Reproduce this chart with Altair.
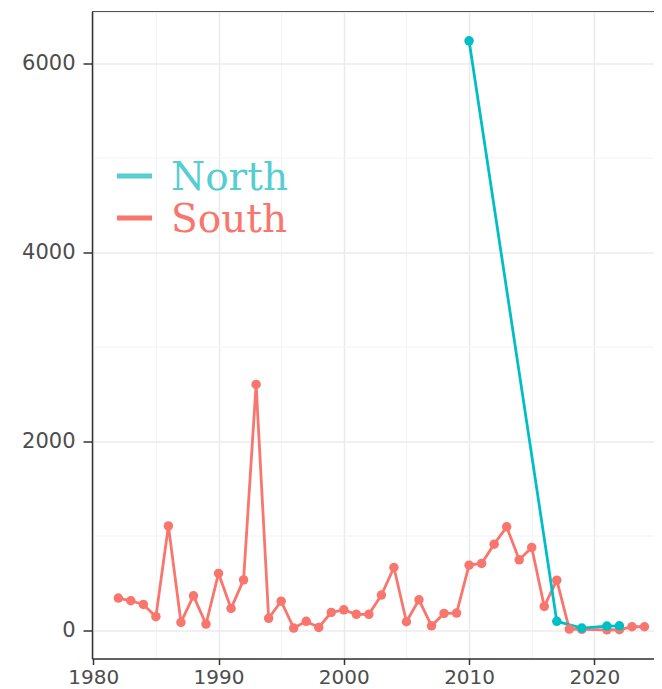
import altair as alt
import pandas as pd

# ---- data ----
south_years = [1982, 1983, 1984, 1985, 1986, 1987, 1988, 1989, 1990, 1991,
               1992, 1993, 1994, 1995, 1996, 1997, 1998, 1999, 2000, 2001,
               2002, 2003, 2004, 2005, 2006, 2007, 2008, 2009, 2010, 2011,
               2012, 2013, 2014, 2015, 2016, 2017, 2018, 2019, 2021, 2022,
               2023, 2024]
south_values = [338, 310, 271, 141, 1102, 81, 362, 63, 599, 229,
                531, 2599, 124, 306, 21, 92, 28, 187, 214, 166,
                166, 370, 662, 88, 320, 45, 176, 180, 687, 705,
                909, 1092, 743, 874, 250, 528, 10, 8, 2, 3,
                35, 35]

north_years = [2010, 2017, 2019, 2021, 2022]
north_values = [6235, 92, 21, 42, 45]

legend_labels = ["North", "South"]

x_ticks = list(range(1980, 2030, 5))
y_ticks = list(range(0, 7000, 1000))

NORTH = "#00BFC4"
SOUTH = "#F8766D"
NORTH_LEG = "#55CDD1"
SOUTH_LEG = "#F8766D"

W, H = 562, 647

south = pd.DataFrame({"year": south_years, "value": south_values})
north = pd.DataFrame({"year": north_years, "value": north_values})
legend_df = pd.DataFrame({"label": legend_labels})

x_scale = alt.Scale(domain=[1979.9, 2024.76], nice=False, zero=False)
y_scale = alt.Scale(domain=[-301, 6545], nice=False, zero=False)

x_axis = alt.Axis(
    title=None,
    values=x_ticks,
    labelExpr="datum.value % 10 === 0 ? toString(datum.value) : ''",
    labelFont="DejaVu Sans", labelFontSize=20, labelColor="#4D4D4D",
    labelPadding=3,
    domainColor="#333333", domainWidth=1.5,
    tickColor="#333333", tickWidth=1.5, tickSize=6,
    tickOpacity={"condition": {"test": "datum.value % 10 === 0", "value": 1}, "value": 0},
    gridColor={"condition": {"test": "datum.value % 10 === 0", "value": "#EBEBEB"}, "value": "#F3F3F3"},
    gridWidth={"condition": {"test": "datum.value % 10 === 0", "value": 1.5}, "value": 1},
    labelFlush=False, labelOverlap=False,
)
y_axis = alt.Axis(
    title=None,
    values=y_ticks,
    labelExpr="datum.value % 2000 === 0 ? toString(datum.value) : ''",
    labelFont="DejaVu Sans", labelFontSize=21, labelColor="#4D4D4D",
    labelPadding=8,
    domainColor="#333333", domainWidth=1.5,
    tickColor="#333333", tickWidth=1.5, tickSize=9,
    tickOpacity={"condition": {"test": "datum.value % 2000 === 0", "value": 1}, "value": 0},
    gridColor={"condition": {"test": "datum.value % 2000 === 0", "value": "#EBEBEB"}, "value": "#F3F3F3"},
    gridWidth={"condition": {"test": "datum.value % 2000 === 0", "value": 1.5}, "value": 1},
    labelFlush=False, labelOverlap=False,
)

X = alt.X("year:Q", scale=x_scale, axis=x_axis)
Y = alt.Y("value:Q", scale=y_scale, axis=y_axis)

line_s = alt.Chart(south).mark_line(color=SOUTH, strokeWidth=2.8).encode(x=X, y=Y)
line_n = alt.Chart(north).mark_line(color=NORTH, strokeWidth=2.8).encode(x=X, y=Y)
pt_s = alt.Chart(south).mark_circle(color=SOUTH, size=90, opacity=1).encode(x=X, y=Y)
pt_n = alt.Chart(north).mark_circle(color=NORTH, size=90, opacity=1).encode(x=X, y=Y)

# panel top border (the right side of the panel is cropped off in the reference)
top_border = alt.Chart(legend_df).transform_filter("datum.label === 'North'").mark_rule(
    color="#555555", strokeWidth=1.2).encode(x=alt.value(0), x2=alt.value(W), y=alt.value(0))

# ---- manual legend (inside the panel, top-left) ----
leg_n = alt.Chart(legend_df).transform_filter(f"datum.label === '{legend_labels[0]}'")
leg_s = alt.Chart(legend_df).transform_filter(f"datum.label === '{legend_labels[1]}'")

leg_n_sym = leg_n.mark_rule(color=NORTH_LEG, strokeWidth=5).encode(
    x=alt.value(25), x2=alt.value(60), y=alt.value(164.5))
leg_s_sym = leg_s.mark_rule(color=SOUTH_LEG, strokeWidth=5).encode(
    x=alt.value(25), x2=alt.value(60), y=alt.value(206.5))
leg_n_txt = leg_n.mark_text(
    align="left", baseline="alphabetic", font="DejaVu Serif", fontSize=39,
    color=NORTH_LEG).encode(x=alt.value(79), y=alt.value(178), text="label:N")
leg_s_txt = leg_s.mark_text(
    align="left", baseline="alphabetic", font="DejaVu Serif", fontSize=39,
    color=SOUTH_LEG).encode(x=alt.value(79), y=alt.value(220), text="label:N")

chart = alt.layer(
    line_s, line_n, pt_s, pt_n, top_border, leg_n_sym, leg_s_sym, leg_n_txt, leg_s_txt
).properties(
    width=W, height=H,
    autosize=alt.AutoSizeParams(type="none"),
    padding={"left": 84, "top": 3.5, "right": 0, "bottom": 28},
).configure_view(
    stroke=None
).configure(background="white")

chart.save("out.html", embed_options={"renderer": "svg", "actions": False})
